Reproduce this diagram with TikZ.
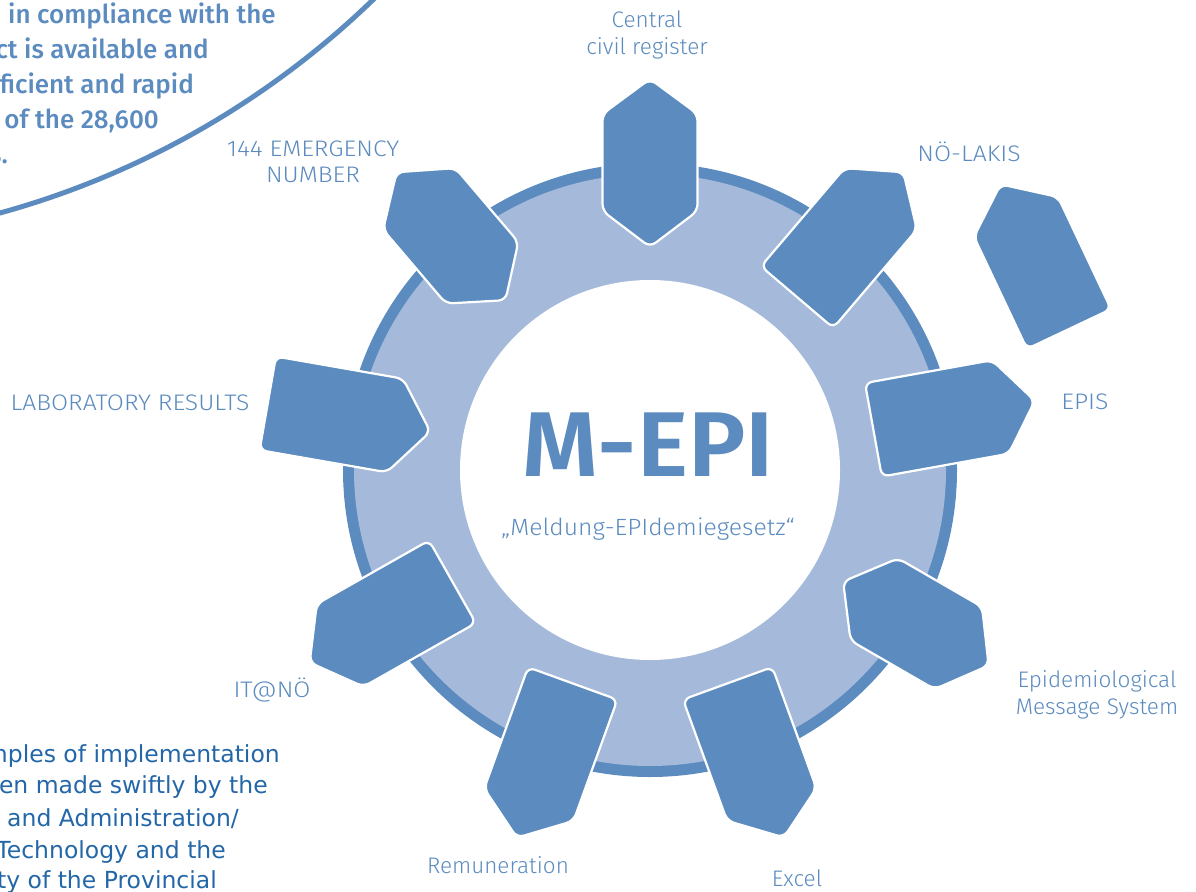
\documentclass[tikz,border=0pt]{standalone}
\usepackage{fontspec}
\IfFontExistsTF{Fira Sans Light}{\newfontfamily\labfont{Fira Sans Light}}{\newfontfamily\labfont{Fira Sans}}
\IfFontExistsTF{Fira Sans Medium}{\newfontfamily\medfont{Fira Sans Medium}}{\newfontfamily\medfont{Fira Sans}}
\IfFontExistsTF{Fira Sans SemiBold}{\newfontfamily\boldfont{Fira Sans SemiBold}}{\newfontfamily\boldfont{Fira Sans}}
\newfontfamily\verdfont{DejaVu Sans}
\definecolor{dblue}{HTML}{5B8BBF}
\definecolor{lblue}{HTML}{A5BADA}
\definecolor{tblue}{HTML}{2467A8}
\newcommand{\wide}[1]{\scalebox{1.1}[1]{#1}}
\tikzset{
  tooth/.style={fill=dblue, draw=white, line width=2.2pt, rounded corners=7pt},
  lab/.style={font={\labfont\fontsize{22.5}{26.5}\selectfont}, text=dblue, align=center, inner sep=0pt},
  toptext/.style={font={\medfont\fontsize{26}{30}\selectfont}, text=dblue, inner sep=0pt},
  bottext/.style={font={\verdfont\fontsize{23.5}{28}\selectfont}, text=tblue, inner sep=0pt}
}
\newcommand{\toothHex}[1]{%
  \begin{scope}[shift={(650,470)},rotate=#1]
    \draw[tooth] (300,47.5) -- (356,47.5) -- (391,0) -- (356,-47.5) -- (259,-47.5) -- (223,0) -- (259,47.5) -- cycle;
  \end{scope}}
\newcommand{\toothOut}[1]{%
  \begin{scope}[shift={(650,470)},rotate=#1]
    \draw[tooth] (300,47.5) -- (356,47.5) -- (391,0) -- (356,-47.5) -- (227,-47.5) -- (227,47.5) -- cycle;
  \end{scope}}
\newcommand{\toothIn}[1]{%
  \begin{scope}[shift={(650,470)},rotate=#1]
    \draw[tooth] (300,47.5) -- (388,47.5) -- (388,-47.5) -- (259,-47.5) -- (223,0) -- (259,47.5) -- cycle;
  \end{scope}}
\begin{document}
\begin{tikzpicture}[x=1pt,y=-1pt]
\useasboundingbox (0,0) rectangle (1196,891);
\fill[white] (0,0) rectangle (1196,891);
% big arc top left
\draw[dblue, line width=5pt] (-231,-625) circle[radius=869];
% top-left paragraph
\node[toptext, anchor=base west] (t1) at (8,24) {in compliance with the};
\node[toptext, anchor=base east] (t2) at (209,59) {ct is available and};
\node[toptext, anchor=base east] (t3) at (194,93) {ficient and rapid};
\node[toptext, anchor=base east] (t4) at (159,128) {of the 28,600};
\node[toptext, anchor=base east] (t5) at (8,163) {s.};
% gear ring
\fill[dblue] (650,470) circle[radius=307];
\fill[lblue] (650,470) circle[radius=296];
\fill[white] (650,470) circle[radius=190];
% teeth
\toothHex{90}
\toothHex{130.4}
\toothOut{49.6}
\toothIn{170.1}
\toothOut{10.2}
\toothHex{-30}
\toothOut{209.5}
\toothOut{250.1}
\toothOut{290}
% detached shape
\begin{scope}[shift={(1069,329)},rotate=115.3]
  \draw[tooth] (60,46.5) -- (124,46.5) -- (160,0) -- (124,-46.5) -- (0,-46.5) -- (0,46.5) -- cycle;
\end{scope}
% centre text
\node[font={\boldfont\fontsize{92}{92}\selectfont}, text=dblue, inner sep=0pt] (mepi) at (648,445) {\scalebox{1.05}[1]{M-EPI}};
\node[font={\labfont\fontsize{23.5}{26}\selectfont}, text=dblue, inner sep=0pt] (sub) at (648,529) {\scalebox{1.05}[1]{„Meldung-EPIdemiegesetz“}};
% labels
\node[lab] (l1) at (647,35) {Central\\civil register};
\node[lab] (l2) at (313,162) {\wide{144 EMERGENCY}\\\wide{NUMBER}};
\node[lab] (l3) at (969,152) {\wide{NÖ-LAKIS}};
\node[lab] (l4) at (130,403) {\wide{LABORATORY RESULTS}};
\node[lab] (l5) at (1085,402) {\wide{EPIS}};
\node[lab] (l6) at (1097,695) {Epidemiological\\Message System};
\node[lab] (l7) at (272,690) {\wide{IT@NÖ}};
\node[lab] (l8) at (498,865) {Remuneration};
\node[lab] (l9) at (797,878) {Excel};
% bottom-left paragraph
\node[bottext, anchor=base east] (b1) at (280,762) {mples of implementation};
\node[bottext, anchor=base east] (b2) at (268,793) {en made swiftly by the};
\node[bottext, anchor=base east] (b3) at (239,826) {and Administration/};
\node[bottext, anchor=base east] (b4) at (226,858) {Technology and the};
\node[bottext, anchor=base east] (b5) at (217,888) {ty of the Provincial};
\end{tikzpicture}
\end{document}
